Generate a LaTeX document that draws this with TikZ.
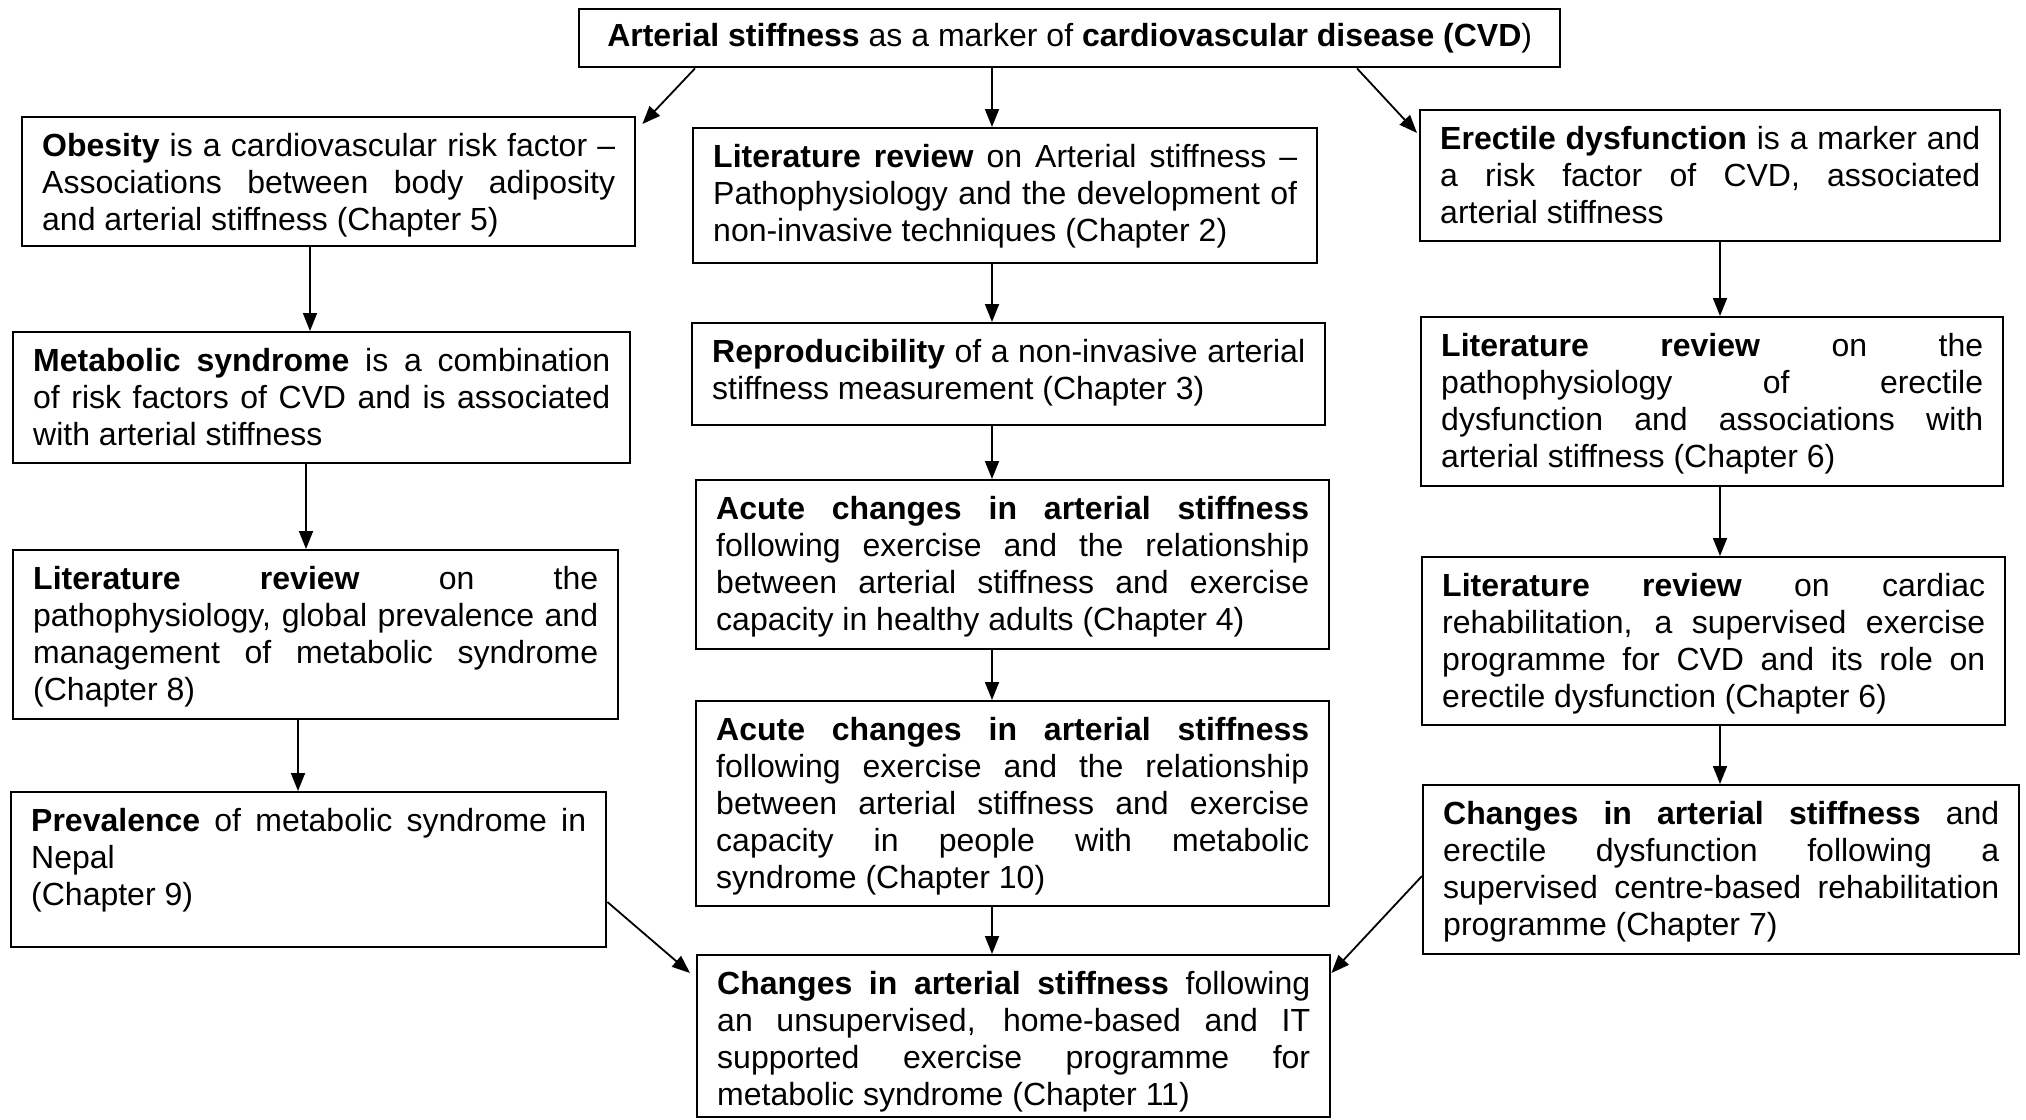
\documentclass[tikz,border=0pt]{standalone}
\usepackage{fontspec}
\setmainfont{Liberation Sans}
\usetikzlibrary{arrows.meta}
\newcommand\jl[1]{\makebox[\linewidth][s]{#1}}
\newcommand\bx[3]{\parbox[c][#2pt][t]{#1pt}{\hspace*{20pt}\parbox[t]{\dimexpr#1pt-40pt\relax}{\raggedright\rule{0pt}{39pt}#3}}}
\tikzset{
  bs/.style={draw=black, line width=2.4pt, inner sep=0pt, anchor=north west, font=\fontsize{32}{37}\selectfont},
  arr/.style={line width=1.8pt, -{Triangle[length=18pt,width=14pt]}},
}
\begin{document}
\begin{tikzpicture}[x=1pt,y=-1pt]
\useasboundingbox (0,0) rectangle (2026,1119);

\node[bs, minimum width=981pt, minimum height=58pt] (top) at (578,8)
  {\textbf{Arterial stiffness} as a marker of \textbf{cardiovascular disease (CVD})};

% left column
\node[bs] (obes) at (21,116) {\bx{613}{129}{\jl{\textbf{Obesity} is a cardiovascular risk factor –}\\\jl{Associations between body adiposity}\\and arterial stiffness (Chapter 5)}};
\node[bs] (metab) at (12,331) {\bx{617}{131}{\jl{\textbf{Metabolic syndrome} is a combination}\\\jl{of risk factors of CVD and is associated}\\with arterial stiffness}};
\node[bs] (litmet) at (12,549) {\bx{605}{169}{\jl{\textbf{Literature review} on the}\\\jl{pathophysiology, global prevalence and}\\\jl{management of metabolic syndrome}\\(Chapter 8)}};
\node[bs] (prev) at (10,791) {\bx{595}{155}{\jl{\textbf{Prevalence} of metabolic syndrome in}\\Nepal\\(Chapter 9)}};

% middle column
\node[bs] (litas) at (692,127) {\bx{624}{135}{\jl{\textbf{Literature review} on Arterial stiffness –}\\\jl{Pathophysiology and the development of}\\non-invasive techniques (Chapter 2)}};
\node[bs] (repro) at (691,322) {\bx{633}{102}{\jl{\textbf{Reproducibility} of a non-invasive arterial}\\stiffness measurement (Chapter 3)}};
\node[bs] (acute1) at (695,479) {\bx{633}{169}{\jl{\textbf{Acute changes in arterial stiffness}}\\\jl{following exercise and the relationship}\\\jl{between arterial stiffness and exercise}\\capacity in healthy adults (Chapter 4)}};
\node[bs] (acute2) at (695,700) {\bx{633}{205}{\jl{\textbf{Acute changes in arterial stiffness}}\\\jl{following exercise and the relationship}\\\jl{between arterial stiffness and exercise}\\\jl{capacity in people with metabolic}\\syndrome (Chapter 10)}};
\node[bs] (final) at (696,954) {\bx{633}{162}{\jl{\textbf{Changes in arterial stiffness} following}\\\jl{an unsupervised, home-based and IT}\\\jl{supported exercise programme for}\\metabolic syndrome (Chapter 11)}};

% right column
\node[bs] (erect) at (1419,109) {\bx{580}{131}{\jl{\textbf{Erectile dysfunction} is a marker and}\\\jl{a risk factor of CVD, associated}\\arterial stiffness}};
\node[bs] (lited) at (1420,316) {\bx{582}{169}{\jl{\textbf{Literature review} on the}\\\jl{pathophysiology of erectile}\\\jl{dysfunction and associations with}\\arterial stiffness (Chapter 6)}};
\node[bs] (litcard) at (1421,556) {\bx{583}{168}{\jl{\textbf{Literature review} on cardiac}\\\jl{rehabilitation, a supervised exercise}\\\jl{programme for CVD and its role on}\\erectile dysfunction (Chapter 6)}};
\node[bs] (ched) at (1422,784) {\bx{596}{169}{\jl{\textbf{Changes in arterial stiffness} and}\\\jl{erectile dysfunction following a}\\\jl{supervised centre-based rehabilitation}\\programme (Chapter 7)}};

% connectors
\draw[arr] ([xshift=117pt]top.south west) -- ([xshift=6pt,yshift=-8pt]obes.north east);
\draw[arr] ([xshift=414pt]top.south west) -- ([xshift=300pt]litas.north west);
\draw[arr] ([xshift=779pt]top.south west) -- ([xshift=-2pt,yshift=-24pt]erect.north west);

\draw[arr] ([xshift=289pt]obes.south west) -- ([xshift=298pt]metab.north west);
\draw[arr] ([xshift=294pt]metab.south west) -- ([xshift=294pt]litmet.north west);
\draw[arr] ([xshift=286pt]litmet.south west) -- ([xshift=288pt]prev.north west);

\draw[arr] ([xshift=300pt]litas.south west) -- ([xshift=301pt]repro.north west);
\draw[arr] ([xshift=301pt]repro.south west) -- ([xshift=297pt]acute1.north west);
\draw[arr] ([xshift=297pt]acute1.south west) -- ([xshift=297pt]acute2.north west);
\draw[arr] ([xshift=297pt]acute2.south west) -- ([xshift=296pt]final.north west);

\draw[arr] ([xshift=301pt]erect.south west) -- ([xshift=300pt]lited.north west);
\draw[arr] ([xshift=300pt]lited.south west) -- ([xshift=299pt]litcard.north west);
\draw[arr] ([xshift=299pt]litcard.south west) -- ([xshift=298pt]ched.north west);

\draw[arr] ([yshift=-111pt]prev.north east) -- ([xshift=-6pt,yshift=-19pt]final.north west);
\draw[arr] ([yshift=-92pt]ched.north west) -- ([yshift=-19pt]final.north east);
\end{tikzpicture}
\end{document}
